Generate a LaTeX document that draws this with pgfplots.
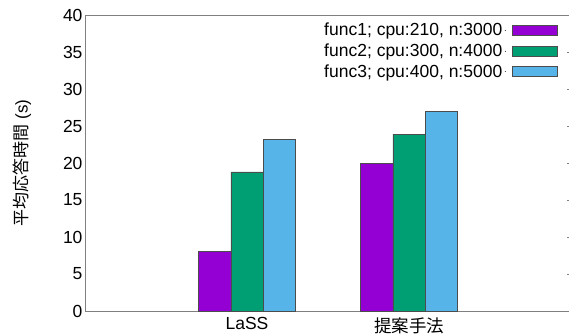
\documentclass[border=0pt]{standalone}
\usepackage{pgfplots}
\pgfplotsset{compat=1.18}
\usepackage{fontspec}
\setmainfont{Liberation Sans}
\newfontfamily\cjk{Noto Sans CJK JP}
\definecolor{c1}{HTML}{9400D3}
\definecolor{c2}{HTML}{009E73}
\definecolor{c3}{HTML}{56B4E9}
\definecolor{axgray}{HTML}{808080}
\begin{document}
\begin{tikzpicture}
\begin{axis}[
  scale only axis,
  width=486pt, height=296pt,
  xmin=-1, xmax=2, ymin=0, ymax=40,
  ytick={0,5,...,40},
  xtick={0,1},
  xticklabels={LaSS,{\cjk 提案手法}},
  major x tick style={draw=none},
  ytick pos=right, yticklabel pos=left,
  major tick length=4pt,
  tick style={axgray, line width=0.5pt},
  axis line style={axgray, line width=0.8pt},
  /pgf/number format/assume math mode=true,
  font=\fontsize{17.5}{20}\selectfont,
  tick label style={font=\fontsize{17.5}{20}\selectfont},
  yticklabel style={xshift=1pt},
  xticklabel style={yshift=1pt},
  ylabel={{\cjk 平均応答時間} (s)},
  ylabel style={font=\fontsize{17}{19}\selectfont, yshift=25pt},
  ybar, bar width=0.2,
  legend style={at={(1,1)}, anchor=north east, xshift=-13pt, yshift=-6pt, draw=none, fill=none,
    font=\fontsize{17.5}{20}\selectfont, row sep=2.5pt, inner sep=0pt},
  legend cell align=right,
  legend plot pos=right,
  legend image code/.code={\path (0pt,0pt) -- (1pt,0pt);\draw[#1] (8pt,-5pt) rectangle (53pt,5pt);},
]
\addplot[fill=c1, draw=black!70, line width=0.5pt, bar shift=-0.2] coordinates {(0,8.1) (1,19.9)};
\addplot[fill=c2, draw=black!70, line width=0.5pt, bar shift=0] coordinates {(0,18.8) (1,23.9)};
\addplot[fill=c3, draw=black!70, line width=0.5pt, bar shift=0.2] coordinates {(0,23.2) (1,27.0)};
\legend{{func1; cpu:210, n:3000},{func2; cpu:300, n:4000},{func3; cpu:400, n:5000}}
\coordinate (O) at (rel axis cs:0,0);
\coordinate (T) at (rel axis cs:0,1);
\end{axis}
\pgfresetboundingbox
\path ([xshift=-85pt,yshift=-23pt]O) rectangle ([xshift=484pt,yshift=15pt]T);
\end{tikzpicture}
\end{document}
